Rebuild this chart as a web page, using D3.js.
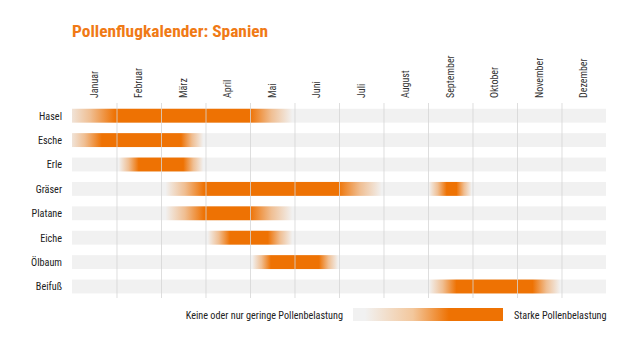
<!DOCTYPE html>
<html><head><meta charset="utf-8">
<script src="https://cdn.jsdelivr.net/npm/d3@7"></script>
<style>
html,body{margin:0;padding:0;background:#fff;}
svg text{font-family:"Liberation Sans Narrow","Arial Narrow","Roboto Condensed","Liberation Sans",Arial,sans-serif;}
</style></head>
<body><svg id="c" width="630" height="360"></svg>
<script>
const title = "Pollenflugkalender: Spanien";
const months = ["Januar","Februar","März","April","Mai","Juni","Juli","August","September","Oktober","November","Dezember"];
const species = ["Hasel","Esche","Erle","Gräser","Platane","Eiche","Ölbaum","Beifuß"];
// pollen seasons in month units (0 = 1 Jan, 12 = 31 Dec)
const segSpecies   = ["Hasel","Esche","Erle","Gräser","Gräser","Platane","Eiche","Ölbaum","Beifuß"];
const segStart     = [-0.15, -0.1, 1.05, 2.1, 8.02, 2.1, 3.05, 4.05, 8.02];
const segPeakStart = [0.97, 0.67, 1.5, 2.97, 8.42, 2.97, 3.55, 4.47, 8.64];
const segPeakEnd   = [4.0, 2.45, 2.5, 5.98, 8.64, 4.0, 4.4, 5.55, 10.35];
const segEnd       = [4.95, 2.95, 2.95, 6.96, 8.98, 4.95, 4.95, 5.98, 10.97];
const legendLow = "Keine oder nur geringe Pollenbelastung";
const legendHigh = "Starke Pollenbelastung";

const ORANGE = "#ee7203", GREY = "#f1f1f1";
const svg = d3.select("#c");
const defs = svg.append("defs");

const x = d3.scaleLinear().domain([0,12]).range([72,606]);
const y = d3.scaleBand().domain(species).range([103.5,298.7]).paddingInner(0.43).paddingOuter(0.215);

svg.append("text").attr("x",72).attr("y",37).attr("fill","#f07a16")
  .attr("font-size",17.4).attr("font-weight","bold").text(title);

// month labels
svg.append("g").selectAll("text").data(months).join("text")
  .attr("transform",(d,i)=>`translate(${x(i+0.5)+3.6},98) rotate(-90)`)
  .attr("text-anchor","start").attr("font-size",10).attr("fill","#333")
  .text(d=>d);

// row backgrounds
svg.append("g").selectAll("rect").data(species).join("rect")
  .attr("x",x(0)).attr("width",x(12)-x(0))
  .attr("y",d=>y(d)).attr("height",y.bandwidth()).attr("fill",GREY);

// row labels
svg.append("g").selectAll("text").data(species).join("text")
  .attr("x",62).attr("y",d=>y(d)+y.bandwidth()/2+3.8)
  .attr("text-anchor","end").attr("font-size",10.2).attr("fill","#222").text(d=>d);

// season bars
const segs = segSpecies.map((s,i)=>({s, a:segStart[i], b:segPeakStart[i], c:segPeakEnd[i], d:segEnd[i], i}));
segs.forEach(g=>{
  const span = g.d - g.a;
  const f = v => (v - g.a)/span;
  const lg = defs.append("linearGradient").attr("id","g"+g.i)
    .attr("gradientUnits","userSpaceOnUse")
    .attr("x1",x(g.a)).attr("x2",x(g.d)).attr("y1",0).attr("y2",0);
  const stops = [
    [0,0],[f(g.a+(g.b-g.a)*0.5),0.4],[f(g.b),1],[f(g.c),1],[f(g.c+(g.d-g.c)*0.5),0.4],[1,0]
  ];
  lg.selectAll("stop").data(stops).join("stop")
    .attr("offset",d=>d[0]).attr("stop-color",ORANGE).attr("stop-opacity",d=>d[1]);
});
svg.append("g").selectAll("rect").data(segs).join("rect")
  .attr("x",d=>x(Math.max(0,d.a))).attr("width",d=>x(d.d)-x(Math.max(0,d.a)))
  .attr("y",d=>y(d.s)).attr("height",y.bandwidth())
  .attr("fill",d=>`url(#g${d.i})`);

// month grid lines (on top)
svg.append("g").selectAll("line").data(d3.range(1,12)).join("line")
  .attr("x1",d=>x(d)+0.5).attr("x2",d=>x(d)+0.5).attr("y1",103).attr("y2",298)
  .attr("stroke","#d6d6d6").attr("stroke-opacity",0.8).attr("stroke-width",1);

// legend
const lgL = defs.append("linearGradient").attr("id","legendGrad");
lgL.selectAll("stop").data([[0,GREY,1],[0.08,GREY,1],[0.4,"#f3c79c",1],[0.64,ORANGE,1],[1,ORANGE,1]]).join("stop")
  .attr("offset",d=>d[0]).attr("stop-color",d=>d[1]);
svg.append("rect").attr("x",353).attr("y",308).attr("width",150).attr("height",13).attr("fill","url(#legendGrad)");
svg.append("text").attr("x",343).attr("y",318.8).attr("text-anchor","end").attr("font-size",10.2).attr("fill","#222").text(legendLow);
svg.append("text").attr("x",514).attr("y",318.8).attr("font-size",10.2).attr("fill","#222").text(legendHigh);
</script></body></html>
